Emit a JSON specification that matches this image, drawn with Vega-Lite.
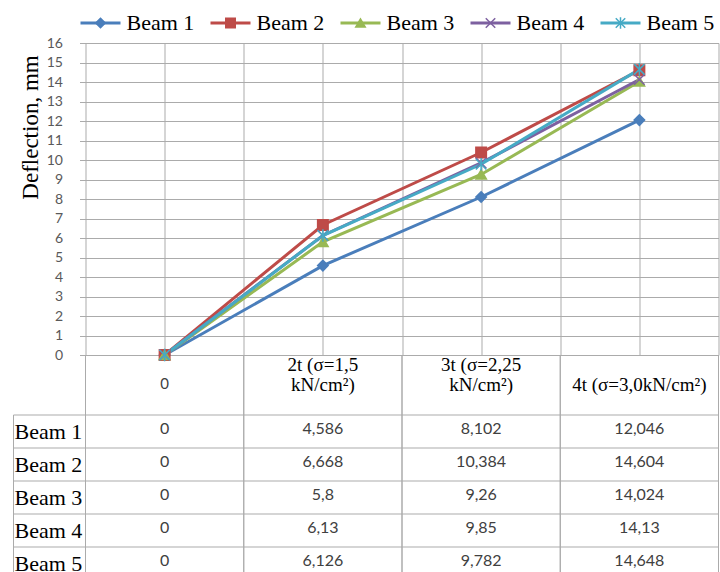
{
  "$schema": "https://vega.github.io/schema/vega-lite/v6.json",
  "padding": {"left": 12.5, "top": 0, "right": 1.5, "bottom": -3},
  "spacing": 0,
  "bounds": "flush",
  "align": "each",
  "columns": 2,
  "background": "#ffffff",
  "datasets": {
    "beams": [
      {"beam": "Beam 1", "idx": 0, "value": 0, "txt": "0"},
      {"beam": "Beam 1", "idx": 1, "value": 4.586, "txt": "4,586"},
      {"beam": "Beam 1", "idx": 2, "value": 8.102, "txt": "8,102"},
      {"beam": "Beam 1", "idx": 3, "value": 12.046, "txt": "12,046"},
      {"beam": "Beam 2", "idx": 0, "value": 0, "txt": "0"},
      {"beam": "Beam 2", "idx": 1, "value": 6.668, "txt": "6,668"},
      {"beam": "Beam 2", "idx": 2, "value": 10.384, "txt": "10,384"},
      {"beam": "Beam 2", "idx": 3, "value": 14.604, "txt": "14,604"},
      {"beam": "Beam 3", "idx": 0, "value": 0, "txt": "0"},
      {"beam": "Beam 3", "idx": 1, "value": 5.8, "txt": "5,8"},
      {"beam": "Beam 3", "idx": 2, "value": 9.26, "txt": "9,26"},
      {"beam": "Beam 3", "idx": 3, "value": 14.024, "txt": "14,024"},
      {"beam": "Beam 4", "idx": 0, "value": 0, "txt": "0"},
      {"beam": "Beam 4", "idx": 1, "value": 6.13, "txt": "6,13"},
      {"beam": "Beam 4", "idx": 2, "value": 9.85, "txt": "9,85"},
      {"beam": "Beam 4", "idx": 3, "value": 14.13, "txt": "14,13"},
      {"beam": "Beam 5", "idx": 0, "value": 0, "txt": "0"},
      {"beam": "Beam 5", "idx": 1, "value": 6.126, "txt": "6,126"},
      {"beam": "Beam 5", "idx": 2, "value": 9.782, "txt": "9,782"},
      {"beam": "Beam 5", "idx": 3, "value": 14.648, "txt": "14,648"}
    ],
    "cats": [
      {"idx": 0, "label": "0"},
      {"idx": 1, "label": "2t (σ=1,5\nkN/cm²)"},
      {"idx": 2, "label": "3t (σ=2,25\n kN/cm²)"},
      {"idx": 3, "label": "4t (σ=3,0kN/cm²)"}
    ],
    "legend": [
      {"beam": "Beam 1", "i": 0},
      {"beam": "Beam 2", "i": 1},
      {"beam": "Beam 3", "i": 2},
      {"beam": "Beam 4", "i": 3},
      {"beam": "Beam 5", "i": 4}
    ]
  },
  "concat": [
    {
      "width": 72, "height": 43,
      "data": {"values": [{}]},
      "mark": {"type": "text"},
      "encoding": {"text": {"value": ""}}
    },
    {
      "width": 633,
      "height": 43,
      "data": {"name": "legend"},
      "encoding": {
        "x": {"field": "i", "type": "quantitative", "scale": {"domain": [-0.11538, 4.75385], "nice": false, "zero": false}, "axis": null}
      },
      "layer": [
        {
          "mark": {"type": "tick", "orient": "horizontal", "size": 40, "thickness": 3, "yOffset": 1.5, "opacity": 1},
          "encoding": {
            "color": {"field": "beam", "type": "nominal", "scale": {"domain": ["Beam 1", "Beam 2", "Beam 3", "Beam 4", "Beam 5"], "range": ["#4A7EBB", "#BE4B48", "#98B954", "#7D60A0", "#46AAC5"]}, "legend": null}
          }
        },
        {
          "mark": {"type": "point", "filled": true, "size": 90, "strokeWidth": 1.5, "opacity": 1, "yOffset": 1.5},
          "encoding": {
            "color": {"field": "beam", "type": "nominal", "legend": null},
            "stroke": {"field": "beam", "type": "nominal", "scale": {"domain": ["Beam 1", "Beam 2", "Beam 3", "Beam 4", "Beam 5"], "range": ["#4A7EBB", "#BE4B48", "#98B954", "#7D60A0", "#46AAC5"]}, "legend": null},
            "shape": {"field": "beam", "type": "nominal", "scale": {"domain": ["Beam 1", "Beam 2", "Beam 3", "Beam 4", "Beam 5"], "range": ["diamond", "square", "triangle-up", "M-1,-1L1,1M-1,1L1,-1", "M-1,-1L1,1M-1,1L1,-1M0,-1.2L0,1.2"]}, "legend": null}
          }
        },
        {
          "mark": {"type": "text", "align": "left", "baseline": "middle", "dx": 26, "yOffset": 1.5, "font": "Liberation Serif", "fontSize": 22, "color": "#000000"},
          "encoding": {"text": {"field": "beam"}}
        }
      ]
    },
    {
      "width": 72, "height": 312,
      "data": {"values": [{}]},
      "mark": {"type": "text"},
      "encoding": {"text": {"value": ""}}
    },
    {
      "width": 633,
      "height": 312,
      "data": {"name": "beams"},
      "encoding": {
        "x": {"field": "idx", "type": "quantitative", "scale": {"domain": [-0.5, 3.5], "nice": false, "zero": false},
              "axis": {"orient": "bottom", "values": [-0.5, 0, 0.5, 1, 1.5, 2, 2.5, 3, 3.5], "labels": false, "ticks": false, "domain": false, "grid": true, "title": null}},
        "y": {"field": "value", "type": "quantitative", "scale": {"domain": [0, 16], "nice": false},
              "axis": {"values": [0,1,2,3,4,5,6,7,8,9,10,11,12,13,14,15,16], "domain": false, "grid": true, "tickSize": 6, "labelPadding": 17, "labelFont": "Lato", "labelFontSize": 14, "labelColor": "#595959", "labelFlush": false,
                       "title": "Deflection, mm", "titleFont": "Liberation Serif", "titleFontSize": 23, "titleFontWeight": "normal", "titleColor": "#000000", "titleX": -55, "titleY": 84, "titleAngle": -90, "titleAlign": "center", "titleBaseline": "middle"}},
        "color": {"field": "beam", "type": "nominal", "legend": null}
      },
      "layer": [
        {"mark": {"type": "line", "strokeWidth": 3}},
        {
          "mark": {"type": "point", "filled": true, "size": 110, "strokeWidth": 1.5, "opacity": 1},
          "encoding": {
            "stroke": {"field": "beam", "type": "nominal", "legend": null},
            "shape": {"field": "beam", "type": "nominal", "legend": null}
          }
        }
      ]
    },
    {
      "width": 72, "height": 60,
      "data": {"values": [{}]},
      "mark": {"type": "text"},
      "encoding": {"text": {"value": ""}}
    },
    {
      "width": 633,
      "height": 60,
      "layer": [
        {
          "data": {"name": "cats"},
          "mark": {"type": "rule", "color": "#ABABAB", "strokeWidth": 1},
          "encoding": {"x": {"field": "idx", "type": "ordinal", "bandPosition": 0, "scale": {"domain": [0, 1, 2, 3], "paddingInner": 0, "paddingOuter": 0}, "axis": null}}
        },
        {
          "data": {"name": "cats"},
          "mark": {"type": "rule", "color": "#ABABAB", "strokeWidth": 1},
          "encoding": {"x": {"field": "idx", "type": "ordinal", "bandPosition": 1, "axis": null}}
        },
        {
          "data": {"name": "cats"},
          "transform": [{"filter": "datum.idx == 0"}],
          "mark": {"type": "text", "font": "Lato", "fontSize": 15, "color": "#404040", "dy": -1},
          "encoding": {"x": {"field": "idx", "type": "ordinal", "axis": null}, "text": {"field": "label"}}
        },
        {
          "data": {"name": "cats"},
          "transform": [{"filter": "datum.idx == 1 || datum.idx == 2"}],
          "mark": {"type": "text", "font": "Liberation Serif", "fontSize": 19, "lineBreak": "\n", "lineHeight": 20, "dy": -20, "color": "#000000"},
          "encoding": {"x": {"field": "idx", "type": "ordinal", "axis": null}, "text": {"field": "label"}}
        },
        {
          "data": {"name": "cats"},
          "transform": [{"filter": "datum.idx == 3"}],
          "mark": {"type": "text", "font": "Liberation Serif", "fontSize": 19, "color": "#000000", "clip": true},
          "encoding": {"x": {"field": "idx", "type": "ordinal", "axis": null}, "text": {"field": "label"}}
        }
      ]
    },
    {
      "width": 72,
      "height": 157,
      "layer": [
        {
          "data": {"name": "legend"},
          "mark": {"type": "rule", "color": "#ABABAB", "strokeWidth": 1},
          "encoding": {"y": {"field": "beam", "type": "nominal", "bandPosition": 0, "scale": {"domain": ["Beam 1", "Beam 2", "Beam 3", "Beam 4", "Beam 5"], "range": [0, 165], "paddingInner": 0, "paddingOuter": 0}, "axis": null}}
        },
        {
          "data": {"values": [{}]},
          "mark": {"type": "rule", "color": "#ABABAB", "strokeWidth": 1},
          "encoding": {"x": {"datum": 0, "type": "quantitative", "scale": {"domain": [0, 1], "nice": false}, "axis": null}}
        },
        {
          "data": {"name": "legend"},
          "mark": {"type": "text", "align": "left", "baseline": "middle", "dx": -35, "font": "Liberation Serif", "fontSize": 22, "color": "#000000"},
          "encoding": {"y": {"field": "beam", "type": "nominal", "axis": null}, "text": {"field": "beam"}}
        }
      ]
    },
    {
      "width": 633,
      "height": 157,
      "layer": [
        {
          "data": {"name": "legend"},
          "mark": {"type": "rule", "color": "#ABABAB", "strokeWidth": 1},
          "encoding": {"y": {"field": "beam", "type": "nominal", "bandPosition": 0, "scale": {"domain": ["Beam 1", "Beam 2", "Beam 3", "Beam 4", "Beam 5"], "range": [0, 165], "paddingInner": 0, "paddingOuter": 0}, "axis": null}}
        },
        {
          "data": {"name": "cats"},
          "mark": {"type": "rule", "color": "#ABABAB", "strokeWidth": 1},
          "encoding": {"x": {"field": "idx", "type": "ordinal", "bandPosition": 0, "scale": {"domain": [0, 1, 2, 3], "paddingInner": 0, "paddingOuter": 0}, "axis": null}}
        },
        {
          "data": {"name": "cats"},
          "mark": {"type": "rule", "color": "#ABABAB", "strokeWidth": 1},
          "encoding": {"x": {"field": "idx", "type": "ordinal", "bandPosition": 1, "axis": null}}
        },
        {
          "data": {"name": "beams"},
          "mark": {"type": "text", "font": "Lato", "fontSize": 16, "color": "#404040", "dy": -3},
          "encoding": {
            "x": {"field": "idx", "type": "ordinal", "axis": null},
            "y": {"field": "beam", "type": "nominal", "axis": null},
            "text": {"field": "txt"}
          }
        }
      ]
    }
  ],
  "config": {
    "view": {"stroke": null},
    "axis": {"gridColor": "#ABABAB", "tickColor": "#ABABAB", "gridOpacity": 1, "gridWidth": 1}
  }
}
